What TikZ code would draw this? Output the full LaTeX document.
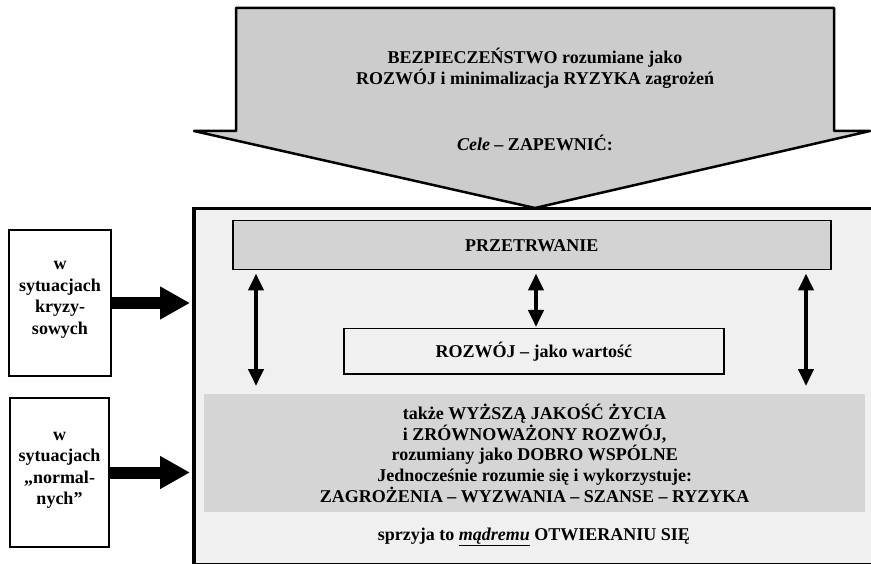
\documentclass[tikz,border=0pt]{standalone}
\usepackage{fontspec}
\setmainfont{Liberation Serif}
\usetikzlibrary{arrows.meta}
\definecolor{arrowc}{HTML}{CCCCCC}
\definecolor{bgc}{HTML}{F0F0F0}
\definecolor{przc}{HTML}{D3D3D3}
\definecolor{bandc}{HTML}{D5D5D5}
\begin{document}
\begin{tikzpicture}[x=1pt,y=-1pt,
  txt/.style={font=\fontsize{18}{20.7}\selectfont\bfseries, align=center, inner sep=0pt},
  sidetxt/.style={font=\fontsize{18}{21.5}\selectfont\bfseries, align=center, inner sep=0pt},
  sidebox/.style={draw=black, line width=2pt, fill=white, anchor=north west, inner sep=0pt},
  dbl/.style={line width=4pt, {Triangle[width=15pt,length=17pt]}-{Triangle[width=15pt,length=17pt]}},
  big/.style={line width=12pt, -{Triangle[width=31pt,length=30pt]}}
]
\useasboundingbox (0,0) rectangle (871,564);
\fill[white] (0,0) rectangle (871,564);

% main frame
\node[draw=black, line width=3.5pt, fill=bgc, anchor=north west,
      minimum width=682pt, minimum height=356pt, inner sep=0pt] (main) at (192,207) {};

% top arrow
\coordinate (tip) at (535,208);
\draw[line width=2.5pt, fill=arrowc, line join=round]
  (236,8) -- (834,8) -- (834,131) -- (870,131) -- (tip) -- (194,131) -- (236,131) -- cycle;
\node[txt] (title) at (535,68) {BEZPIECZEŃSTWO rozumiane jako\\ROZWÓJ i minimalizacja RYZYKA zagrożeń};
\node[txt] (cele) at (535,143) {\textit{Cele} – ZAPEWNIĆ:};

% inner boxes
\node[draw=black, line width=1.5pt, fill=przc, anchor=north west,
      minimum width=598pt, minimum height=49pt, inner sep=0pt] (prz) at (232,220) {};
\node[txt] at (prz.center) {PRZETRWANIE};

\node[draw=black, line width=1.5pt, fill=bgc, anchor=north west,
      minimum width=380pt, minimum height=45pt, inner sep=0pt] (roz) at (343,328) {};
\node[txt] at (roz.center) {ROZWÓJ – jako wartość};

\node[fill=bandc, anchor=north west,
      minimum width=661pt, minimum height=118pt, inner sep=0pt] (band) at (204,394) {};
\node[txt] at (band.center) {także WYŻSZĄ JAKOŚĆ ŻYCIA\\i ZRÓWNOWAŻONY ROZWÓJ,\\rozumiany jako DOBRO WSPÓLNE\\Jednocześnie rozumie się i wykorzystuje:\\ZAGROŻENIA – WYZWANIA – SZANSE – RYZYKA};

\node[txt] (sprz) at (534,537) {sprzyja to \underline{\textit{mądremu}} OTWIERANIU SIĘ};

% double arrows
\coordinate (la) at (256,0);
\coordinate (ra) at (806,0);
\coordinate (ma) at (536,0);
\draw[dbl, shorten <=3pt, shorten >=8pt] (prz.south -| la) -- (band.north -| la);
\draw[dbl, shorten <=3pt, shorten >=8pt] (prz.south -| ra) -- (band.north -| ra);
\draw[dbl, shorten <=3pt, shorten >=1pt] (prz.south -| ma) -- (roz.north -| ma);

% side boxes
\node[sidebox, minimum width=102pt, minimum height=146pt] (s1) at (8,229) {};
\node[sidetxt] at ([yshift=3pt]s1.center) {w\\sytuacjach\\kryzy-\\sowych};
\node[sidebox, minimum width=99pt, minimum height=149pt] (s2) at (9,397) {};
\node[sidetxt] at ([yshift=2pt]s2.center) {w\\sytuacjach\\„normal-\\nych”};

\draw[big, shorten >=2pt] (s1.east) -- (s1.east -| main.west);
\draw[big, shorten >=2pt] (s2.east) -- (s2.east -| main.west);
\end{tikzpicture}
\end{document}
